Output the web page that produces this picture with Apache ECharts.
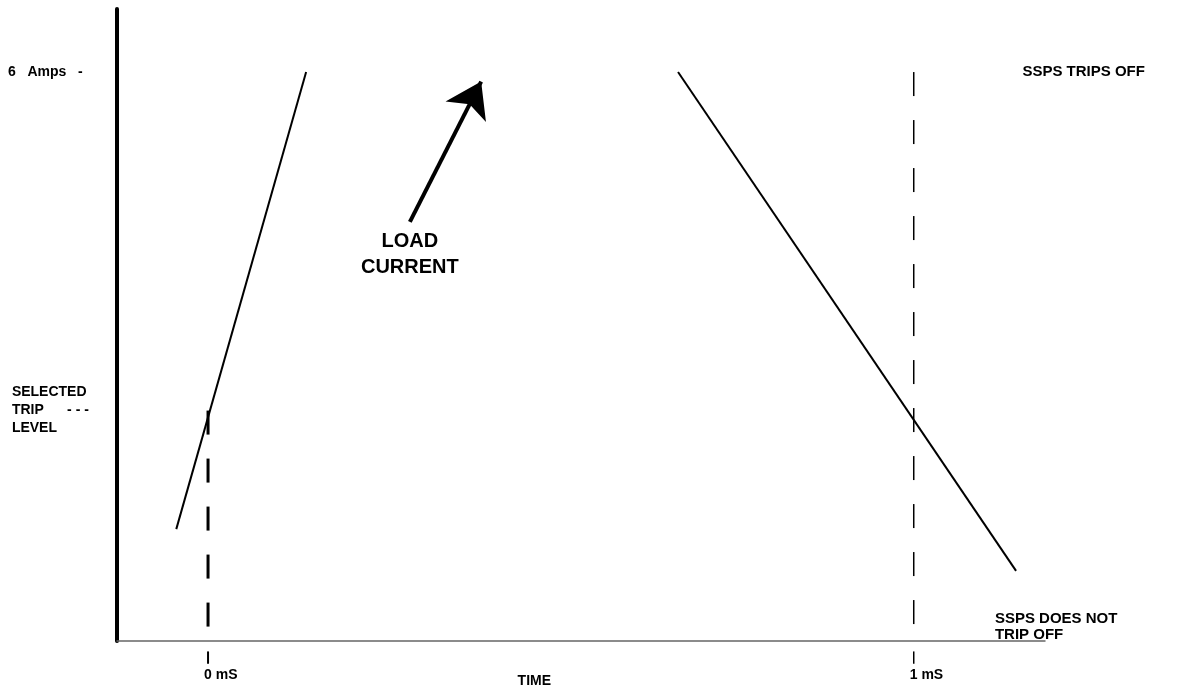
<!DOCTYPE html>
<html>
<head>
<meta charset="utf-8">
<script src="https://cdn.jsdelivr.net/npm/echarts@6/dist/echarts.min.js"></script>
<style>html,body{margin:0;padding:0;background:#fff}#c{width:1177px;height:692px}</style>
</head>
<body>
<div id="c"></div>
<script>
// time in mS, current in Amps (schematic)
var risingCurrent = [[-0.045, 1.18], [0.139, 6.0]];
var fallingCurrent = [[0.666, 6.0], [1.145, 0.74]];
var tripLevel = 2.43;
var ampsLevel = 6.0;
var tripTime0 = [[0, tripLevel], [0, 0.11]];
var tripTime1 = [[1, 6.0], [1, 0.0]];
var tickBelow0 = [[0, -0.11], [0, -0.24]];
var tickBelow1 = [[1, -0.11], [1, -0.24]];
var arrowFrom = [0.286, 4.42];
var arrowTo = [0.387, 5.90];
var xTickValues = [0, 0.467, 1];
var xTickLabels = ['0 mS', 'TIME', '1 mS'];
var yTickValues = [tripLevel, ampsLevel];
var annotations = [
  {pos: [0.286, 4.08], text: 'LOAD\nCURRENT', kind: 'load'},
  {pos: [1.154, 6.0], text: 'SSPS TRIPS OFF', kind: 'small'},
  {pos: [1.115, 0.15], text: 'SSPS DOES NOT\nTRIP OFF', kind: 'small'}
];

var chart = echarts.init(document.getElementById('c'));
var font = 'Liberation Sans';
chart.setOption({
  animation: false,
  backgroundColor: '#fff',
  grid: {left: 117, right: 132, top: 9, bottom: 51, containLabel: false},
  xAxis: {
    type: 'value', min: -0.129, max: 1.186,
    axisLine: {show: true, onZero: false, lineStyle: {color: '#666', width: 1.5}},
    axisTick: {show: false},
    splitLine: {show: false},
    axisLabel: {
      customValues: xTickValues,
      formatter: function (v) {
        var i = xTickValues.findIndex(function (t) { return Math.abs(t - v) < 1e-6; });
        return i === 1 ? '{t|' + xTickLabels[i] + '}' : '{m|' + xTickLabels[i] + '}';
      },
      margin: 27,
      align: 'left',
      rich: {
        m: {fontFamily: font, fontWeight: 'bold', fontSize: 14, color: '#000', padding: [0, 0, 0, -4]},
        t: {fontFamily: font, fontWeight: 'bold', fontSize: 14, color: '#000', padding: [6, 0, 0, -20]}
      }
    }
  },
  yAxis: {
    type: 'value', min: 0, max: 6.665,
    axisLine: {show: true, onZero: false, lineStyle: {color: '#000', width: 4}},
    axisTick: {show: false},
    splitLine: {show: false},
    axisLabel: {
      customValues: yTickValues,
      align: 'left',
      margin: 109,
      fontFamily: font, fontWeight: 'bold', fontSize: 14, color: '#000', lineHeight: 18,
      formatter: function (v) {
        if (Math.abs(v - ampsLevel) < 1e-6) return '6   Amps   -';
        return ' SELECTED\n TRIP      - - -\n LEVEL';
      }
    }
  },
  series: [
    {type: 'line', data: risingCurrent, symbol: 'none', lineStyle: {color: '#000', width: 2}},
    {type: 'line', data: fallingCurrent, symbol: 'none', lineStyle: {color: '#000', width: 2}},
    {type: 'line', data: tripTime0, symbol: 'none', lineStyle: {color: '#000', width: 3, type: [24, 24]}},
    {type: 'line', data: tripTime1, symbol: 'none', lineStyle: {color: '#000', width: 1.5, type: [24, 24]}},
    {type: 'line', data: tickBelow0, symbol: 'none', clip: false, lineStyle: {color: '#000', width: 2}},
    {type: 'line', data: tickBelow1, symbol: 'none', clip: false, lineStyle: {color: '#000', width: 1.5}},
    {type: 'lines', coordinateSystem: 'cartesian2d', symbol: ['none', 'arrow'], symbolSize: [16, 34],
      lineStyle: {color: '#000', width: 4, opacity: 1},
      data: [{coords: [arrowFrom, arrowTo]}]},
    {type: 'scatter', symbolSize: 0, clip: false,
      itemStyle: {opacity: 1, color: '#000'},
      label: {color: '#000'},
      data: annotations.map(function (a) {
        if (a.kind === 'load') {
          return {value: a.pos, label: {show: true, position: 'inside', align: 'center', verticalAlign: 'middle',
            fontFamily: font, fontWeight: 'bold', fontSize: 20, lineHeight: 26, color: '#000', formatter: a.text}};
        }
        return {value: a.pos, label: {show: true, position: 'inside', align: 'left', verticalAlign: 'middle',
          fontFamily: font, fontWeight: 'bold', fontSize: 15, lineHeight: 16, color: '#000', formatter: a.text}};
      })
    }
  ]
});
</script>
</body>
</html>
